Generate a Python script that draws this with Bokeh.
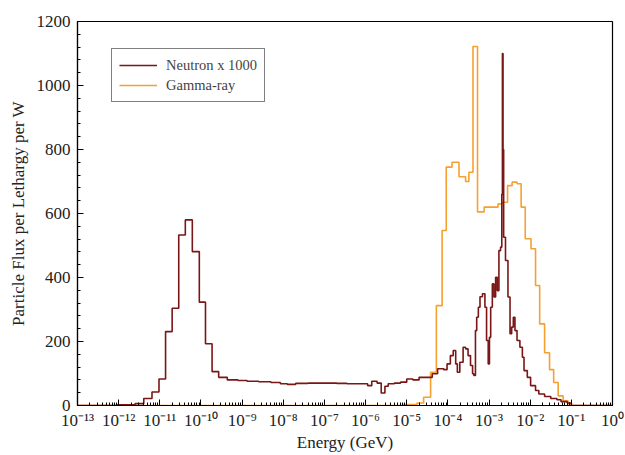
from bokeh.plotting import figure
from bokeh.models import (FixedTicker, SingleIntervalTicker, CustomJSTickFormatter,
                          Legend, LegendItem, Range1d)
from bokeh.embed import file_html
from bokeh.resources import INLINE

# ---- data (log10 of energy in GeV at left bin edge, flux value) ----
neutron_logE = [-13.0, -12.05, -11.6, -11.39, -11.19, -11.02, -10.86, -10.70, -10.54, -10.38,
                -10.21, -10.04, -9.89, -9.73, -9.57, -9.36, -9.1, -8.88, -8.6, -8.3,
                -8.07, -7.9, -7.7, -7.4, -7.0, -6.7, -6.45, -6.1, -5.95, -5.85,
                -5.72, -5.62, -5.53, -5.45, -5.3, -5.15, -5.0, -4.85, -4.7, -4.5,
                -4.38, -4.25, -4.1, -4.02, -3.94, -3.87, -3.81, -3.77, -3.71, -3.63,
                -3.57, -3.51, -3.45, -3.40, -3.37, -3.33, -3.30, -3.26, -3.22, -3.16,
                -3.10, -3.06, -3.02, -2.99, -2.96, -2.92, -2.88, -2.84, -2.80, -2.76,
                -2.72, -2.69, -2.675, -2.66, -2.645, -2.60, -2.54, -2.49, -2.45, -2.41,
                -2.37, -2.32, -2.25, -2.19, -2.15, -2.07, -1.99, -1.87, -1.79, -1.65,
                -1.5, -1.35, -1.25, -1.1, -1.0, 0.0]
neutron_flux = [0, 2, 6, 22, 42, 83, 231, 304, 533, 580,
                481, 323, 193, 106, 88, 80, 78, 76, 74, 72,
                68, 66, 69, 70, 70, 69, 68, 68, 62, 76,
                70, 39, 60, 68, 70, 73, 83, 80, 88, 88,
                99, 115, 112, 130, 156, 172, 130, 104, 135, 182,
                177, 156, 125, 99, 94, 234, 276, 307, 340, 349,
                307, 203, 130, 213, 307, 380, 339, 401, 359, 484,
                495, 660, 1100, 800, 526, 453, 339, 224, 245, 276,
                234, 203, 182, 151, 109, 88, 62, 47, 36, 28,
                22, 18, 12, 8, 0, 0]

gamma_logE = [-13.0, -5.1, -4.75, -4.59, -4.42, -4.28, -4.14, -4.04, -3.90, -3.73,
              -3.57, -3.49, -3.39, -3.28, -3.12, -2.78, -2.68, -2.55, -2.44, -2.32,
              -2.22, -2.12, -1.98, -1.87, -1.77, -1.65, -1.53, -1.43, -1.32, -1.2,
              -1.08, -1.0, 0.0]
gamma_flux = [0, 3, 8, 26, 104, 312, 547, 745, 760, 715,
              700, 729, 1122, 605, 620, 630, 635, 687, 698, 693,
              620, 521, 490, 375, 255, 165, 112, 72, 30, 15,
              5, 0, 0]

decades = list(range(-13, 1))
y_ticks = [0, 200, 400, 600, 800, 1000, 1200]

SERIF = "Liberation Serif"
RED = "#7a1616"
ORANGE = "#f5a033"

p = figure(width=625, height=455, x_axis_type="log", output_backend="svg",
           toolbar_location=None, x_range=Range1d(10.0 ** decades[0], 10.0 ** decades[-1]),
           y_range=Range1d(y_ticks[0], y_ticks[-1]))
p.min_border_left = 77
p.min_border_right = 13
p.min_border_top = 21
p.min_border_bottom = 50
p.xgrid.visible = False
p.ygrid.visible = False
p.outline_line_color = "black"
p.outline_line_width = 1.2

g = p.step([10.0 ** v for v in gamma_logE], gamma_flux, mode="after",
           line_color=ORANGE, line_width=1.6)
n = p.step([10.0 ** v for v in neutron_logE], neutron_flux, mode="after",
           line_color=RED, line_width=1.6)

minor = [m * 10.0 ** k for k in decades[:-1] for m in range(2, 10)]
p.xaxis.ticker = FixedTicker(ticks=[10.0 ** k for k in decades], minor_ticks=minor)
p.xaxis.formatter = CustomJSTickFormatter(code="""
const sup = {'-':'\u207b','0':'\u2070','1':'\u00b9','2':'\u00b2','3':'\u00b3','4':'\u2074',
             '5':'\u2075','6':'\u2076','7':'\u2077','8':'\u2078','9':'\u2079'};
const e = Math.round(Math.log10(tick));
return '10' + String(e).split('').map(c => sup[c]).join('');
""")
p.yaxis.ticker = SingleIntervalTicker(interval=200, num_minor_ticks=5)

for ax in (p.xaxis[0], p.yaxis[0]):
    ax.axis_line_color = "black"
    ax.axis_line_width = 1.2
    ax.major_tick_in = 6
    ax.major_tick_out = 0
    ax.minor_tick_in = 3
    ax.minor_tick_out = 0
    ax.major_tick_line_color = "black"
    ax.minor_tick_line_color = "black"
    ax.major_label_text_font = SERIF
    ax.major_label_text_font_size = "17px"
    ax.major_label_text_color = "#222222"
    ax.axis_label_text_font = SERIF
    ax.axis_label_text_font_size = "17px"
    ax.axis_label_text_font_style = "normal"
    ax.axis_label_text_color = "#222222"

p.xaxis.axis_label = "Energy (GeV)"
p.yaxis.axis_label = "Particle Flux per Lethargy per W"
p.xaxis.major_label_standoff = 5
p.yaxis.major_label_standoff = 7
p.xaxis.axis_label_standoff = 0
p.yaxis.axis_label_standoff = 6

legend = Legend(items=[LegendItem(label="Neutron x 1000", renderers=[n]),
                       LegendItem(label="Gamma-ray", renderers=[g])],
                location=(34, 303))
legend.border_line_color = "black"
legend.border_line_width = 1.2
legend.label_text_font = SERIF
legend.label_text_font_size = "14.5px"
legend.glyph_width = 38
legend.glyph_height = 18
legend.label_height = 18
legend.label_standoff = 9
legend.spacing = 2
legend.padding = 7
legend.margin = 0
legend.background_fill_alpha = 1
p.add_layout(legend)

open("out.html", "w").write(file_html(p, INLINE))
